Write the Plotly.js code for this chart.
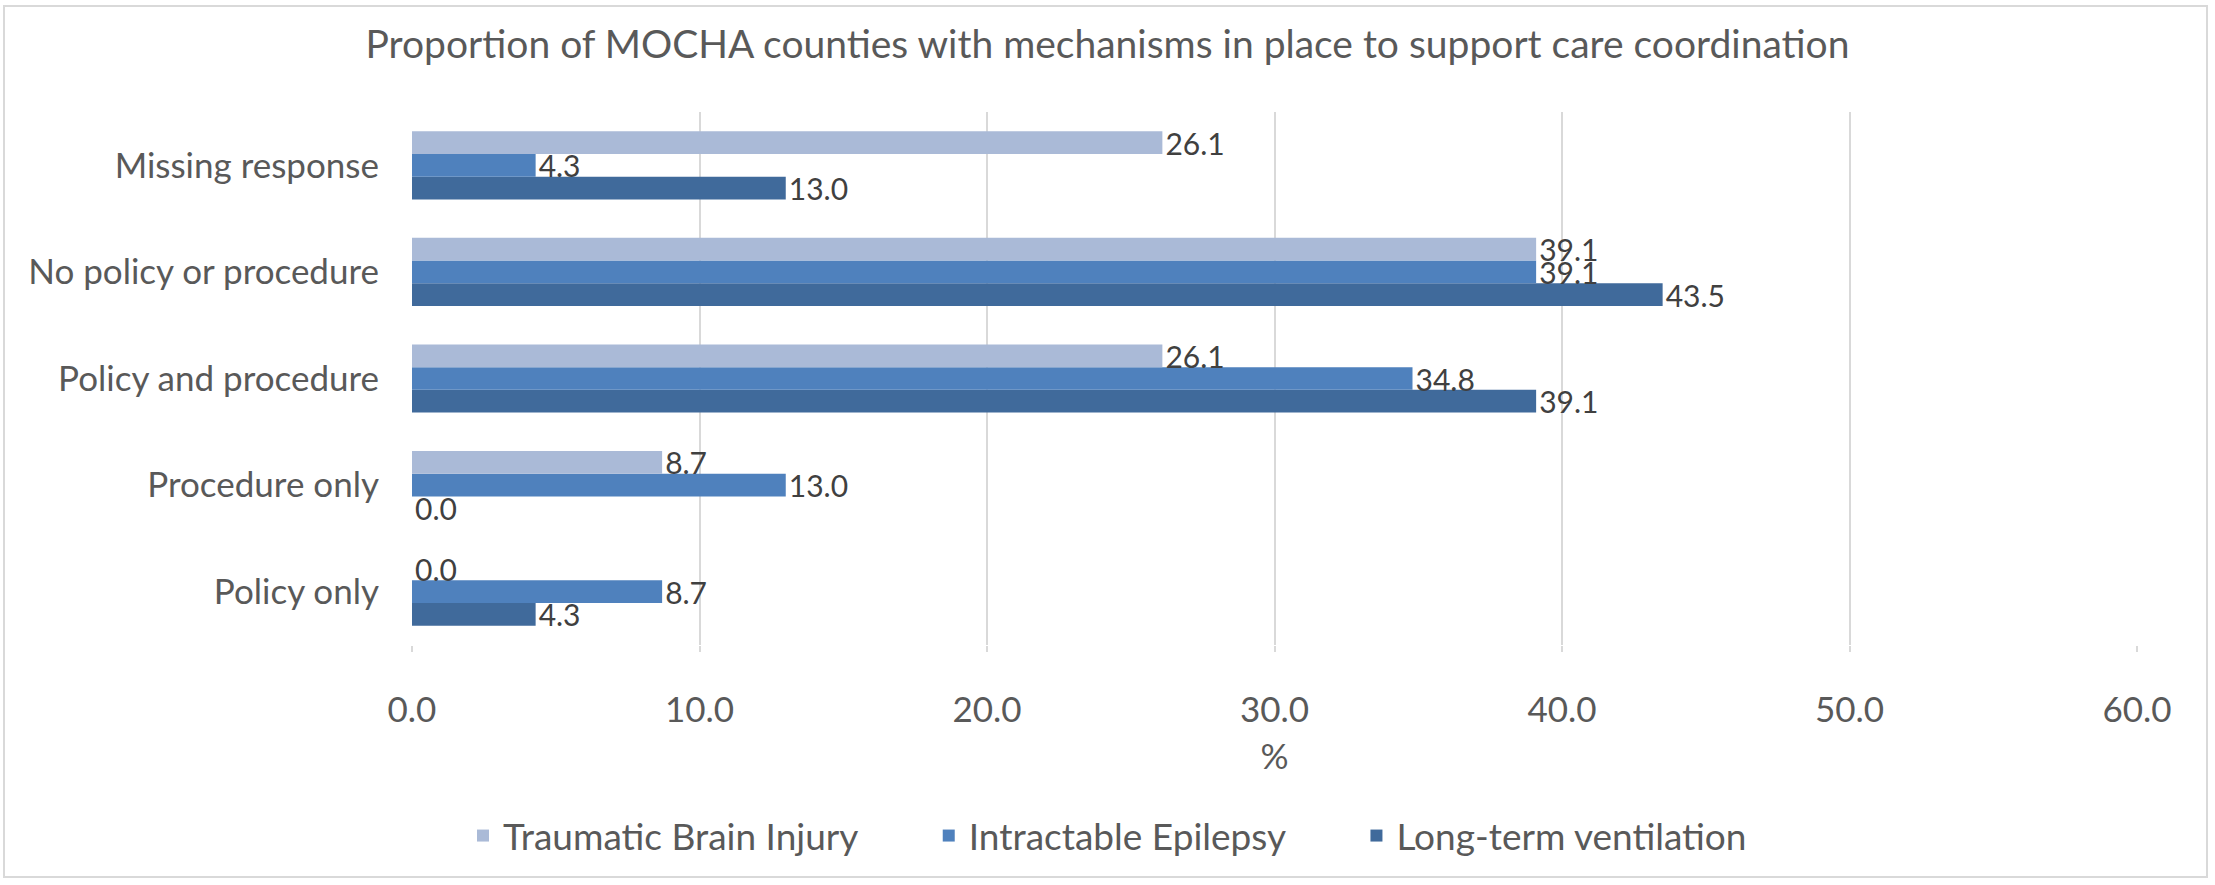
<!DOCTYPE html>
<html>
<head>
<meta charset="utf-8">
<script src="https://cdn.plot.ly/plotly-3.0.1.min.js"></script>
<style>
html,body{margin:0;padding:0;background:#fff;}
#frame{position:absolute;left:3px;top:5px;width:2205px;height:873px;border:2px solid #d9d9d9;box-sizing:border-box;}
#chart{position:absolute;left:0;top:0;width:2215px;height:885px;}
</style>
</head>
<body>
<div id="frame"></div>
<div id="chart"></div>
<script>
const categories = ["Policy only", "Procedure only", "Policy and procedure", "No policy or procedure", "Missing response"];
const traumaticBrainInjury = [0.0, 8.7, 26.1, 39.1, 26.1];
const intractableEpilepsy = [8.7, 13.0, 34.8, 39.1, 4.3];
const longTermVentilation = [4.3, 0.0, 39.1, 43.5, 13.0];
const seriesNames = ["Traumatic Brain Injury", "Intractable Epilepsy", "Long-term ventilation"];
const xTicks = [0, 10, 20, 30, 40, 50, 60];

const FONT = "Lato, 'Open Sans', sans-serif";
const labelFont = {family: FONT, size: 30, color: "#404040"};
const PAD = "\u00a0\u00a0\u00a0\u00a0\u00a0\u00a0\u00a0";

function mk(name, vals, color) {
  return {
    type: "bar", orientation: "h", name: name,
    y: categories, x: vals,
    marker: {color: color},
    text: vals.map(v => v.toFixed(1)),
    textposition: "outside",
    textfont: labelFont,
    constraintext: "none",
    cliponaxis: false,
    hoverinfo: "x+name"
  };
}

const data = [
  mk(seriesNames[2], longTermVentilation, "#406a9b"),
  mk(seriesNames[1] + PAD, intractableEpilepsy, "#4f81bd"),
  mk(seriesNames[0] + PAD, traumaticBrainInjury, "#aabad7")
];

const layout = {
  width: 2215, height: 885,
  paper_bgcolor: "rgba(0,0,0,0)", plot_bgcolor: "rgba(0,0,0,0)",
  margin: {l: 412, r: 78, t: 112, b: 240},
  barmode: "group", bargap: 0.36, bargroupgap: 0,
  font: {family: FONT, size: 35, color: "#595959"},
  title: {text: "Proportion of MOCHA counties with mechanisms in place to support care coordination",
    font: {family: FONT, size: 39, color: "#595959"},
    x: 0.5, xref: "container", xanchor: "center",
    y: 1 - 44/885, yref: "container", yanchor: "middle"},
  xaxis: {range: [0, 60], tickvals: xTicks, ticktext: xTicks.map(v => v.toFixed(1)),
    showgrid: true, gridcolor: "#d9d9d9", gridwidth: 2,
    zeroline: false, showline: false,
    ticks: "outside", ticklen: 6, tickcolor: "#d9d9d9", tickwidth: 2,
    ticklabelstandoff: 28,
    tickfont: {family: FONT, size: 35, color: "#595959"},
    title: {text: "%", font: {family: FONT, size: 35, color: "#595959"}, standoff: 16},
    fixedrange: true},
  yaxis: {categoryorder: "array", categoryarray: categories,
    showgrid: false, zeroline: false, showline: false, ticks: "",
    ticklabelstandoff: 32,
    tickfont: {family: FONT, size: 35, color: "#595959"},
    fixedrange: true},
  legend: {orientation: "h", traceorder: "reversed",
    xref: "container", x: 0.5, xanchor: "center",
    yref: "container", y: 1 - 836/885, yanchor: "middle",
    font: {family: FONT, size: 37, color: "#595959"},
    itemwidth: 30},
  showlegend: true
};

Plotly.newPlot("chart", data, layout, {displayModeBar: false, staticPlot: true});
</script>
</body>
</html>
